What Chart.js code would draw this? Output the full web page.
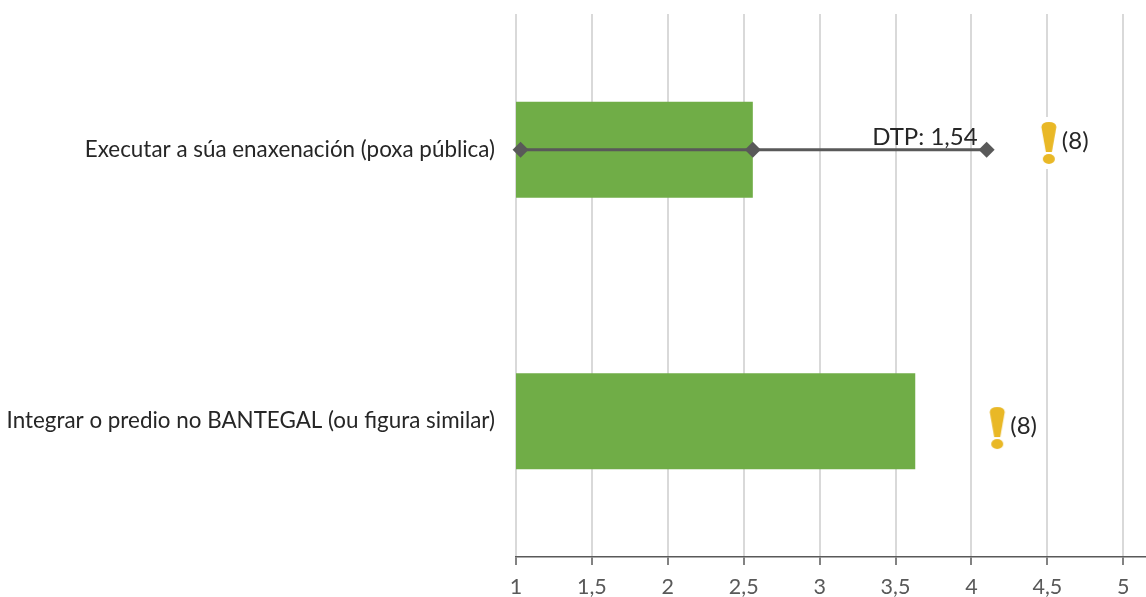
<!DOCTYPE html>
<html lang="gl">
<head>
    <meta charset="UTF-8">
    <title>Executar a súa enaxenación</title>
    <script src="https://cdn.jsdelivr.net/npm/chart.js"></script>
    <style>
        html, body { margin: 0; padding: 0; background: #ffffff; overflow: hidden; }
        .chart-box { width: 1146px; height: 597px; }
    </style>
</head>
<body>
    <div class="chart-box"><canvas id="chart"></canvas></div>

    <script>
        const categories = ['Executar a súa enaxenación (poxa pública)', 'Integrar o predio no BANTEGAL (ou figura similar)'];
        const barValues = [2.56, 3.63];
        const rangeValues = [1.03, 2.56, 4.1];
        const rangeLabel = 'DTP: 1,54';
        const noteX = [4.51, 4.17];
        const noteY = [-0.025, 1.025];
        const noteLabels = ['(8)', '(8)'];
        const xTicks = [1, 1.5, 2, 2.5, 3, 3.5, 4, 4.5, 5];

        const fontName = 'Lato, sans-serif';

        // exclamation mark used as the point image
        function makeMark() {
            const c = document.createElement('canvas');
            c.width = 26;
            c.height = 52;
            const g = c.getContext('2d');
            g.fillStyle = '#ffffff';
            g.fillRect(0, 0, 26, 52);
            g.fillStyle = '#E9B826';
            g.beginPath();
            g.moveTo(5.5, 10);
            g.quadraticCurveTo(6, 5, 13, 5);
            g.quadraticCurveTo(20, 5, 20.5, 10);
            g.lineTo(16, 35);
            g.lineTo(10, 35);
            g.closePath();
            g.fill();
            g.beginPath();
            g.ellipse(13, 42, 6, 5, 0, 0, Math.PI * 2);
            g.fill();
            return c;
        }

        const textPlugin = {
            id: 'textPlugin',
            afterDatasetsDraw(chart) {
                const { ctx, scales } = chart;
                ctx.save();
                ctx.font = '24px ' + fontName;
                ctx.fillStyle = '#262626';
                ctx.textBaseline = 'middle';
                ctx.textAlign = 'right';
                ctx.fillText(rangeLabel, scales.x.getPixelForValue(rangeValues[2]) - 9, scales.y.getPixelForValue(0) - 12);
                ctx.textAlign = 'left';
                noteLabels.forEach((t, i) => {
                    ctx.fillText(t, scales.x.getPixelForValue(noteX[i]) + 13, scales.y2.getPixelForValue(noteY[i]) - 2);
                });
                ctx.restore();
            }
        };

        new Chart(document.getElementById('chart'), {
            type: 'bar',
            plugins: [textPlugin],
            data: {
                labels: categories,
                datasets: [
                    {
                        data: barValues,
                        backgroundColor: '#70AD47',
                        barPercentage: 0.354,
                        categoryPercentage: 1,
                        grouped: false,
                        order: 3
                    },
                    {
                        type: 'line',
                        data: rangeValues.map(v => ({ x: v, y: categories[0] })),
                        borderColor: '#595959',
                        borderWidth: 3,
                        pointStyle: 'rectRot',
                        pointRadius: 8,
                        pointBackgroundColor: '#595959',
                        pointBorderColor: '#595959',
                        pointBorderWidth: 0,
                        clip: false,
                        order: 2
                    },
                    {
                        type: 'scatter',
                        yAxisID: 'y2',
                        xAxisID: 'x',
                        data: noteX.map((v, i) => ({ x: v, y: noteY[i] })),
                        pointStyle: makeMark(),
                        clip: false,
                        order: 1
                    }
                ]
            },
            options: {
                indexAxis: 'y',
                responsive: true,
                maintainAspectRatio: false,
                animation: false,
                layout: { autoPadding: false, padding: { top: 14, left: 0, right: 0, bottom: 0 } },
                plugins: {
                    legend: { display: false },
                    tooltip: { enabled: false }
                },
                scales: {
                    x: {
                        type: 'linear',
                        min: 1,
                        max: 5.15,
                        afterBuildTicks(axis) {
                            axis.ticks = xTicks.map(v => ({ value: v }));
                        },
                        afterFit(axis) {
                            axis.height = 40;
                            axis.paddingRight = 0;
                        },
                        grid: {
                            color: '#D9D9D9',
                            lineWidth: 2,
                            tickColor: '#595959',
                            tickWidth: 1.5,
                            tickLength: 8
                        },
                        border: { color: '#595959', width: 1.5 },
                        ticks: {
                            autoSkip: false,
                            maxRotation: 0,
                            padding: 9,
                            color: '#595959',
                            font: { family: fontName, size: 21.5 },
                            callback: v => String(v).replace('.', ',')
                        }
                    },
                    y: {
                        type: 'category',
                        afterFit(axis) { axis.width = 516; },
                        grid: { drawOnChartArea: false, tickColor: 'rgba(0,0,0,0)', tickLength: 21 },
                        border: { display: false },
                        ticks: {
                            padding: 0,
                            color: '#262626',
                            font: { family: fontName, size: 22.4 }
                        }
                    },
                    y2: {
                        type: 'linear',
                        display: false,
                        reverse: true,
                        offset: false,
                        min: -0.5,
                        max: 1.5
                    }
                }
            }
        });
    </script>
</body>
</html>
